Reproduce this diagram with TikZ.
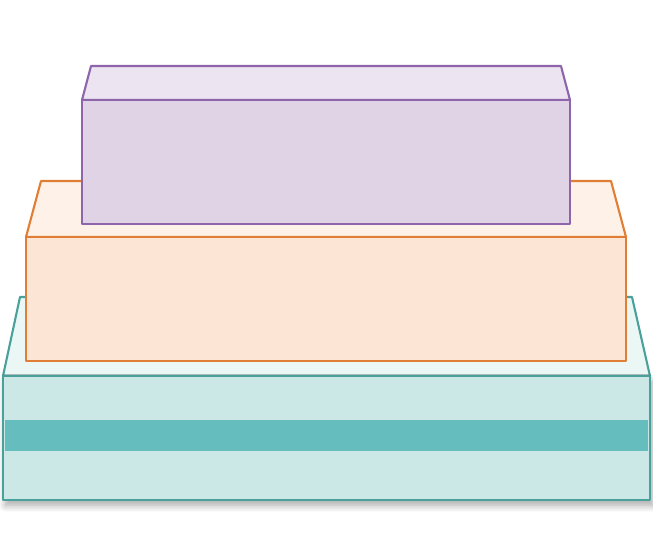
\documentclass[tikz,border=0pt]{standalone}
\usetikzlibrary{shadows.blur}
\definecolor{tealline}{HTML}{4AA19C}\definecolor{tealfront}{HTML}{CCE8E6}\definecolor{tealtop}{HTML}{EBF7F5}\definecolor{tealband}{HTML}{66BDBD}
\definecolor{orangeline}{HTML}{E07E35}\definecolor{orangefront}{HTML}{FDE5D5}\definecolor{orangetop}{HTML}{FEF1E8}
\definecolor{purpleline}{HTML}{8E64AA}\definecolor{purplefront}{HTML}{E0D3E5}\definecolor{purpletop}{HTML}{ECE4F1}
\begin{document}
\begin{tikzpicture}[x=0.02cm,y=-0.02cm,line join=round,face/.style={line width=1.2pt}]
\useasboundingbox (0,0) rectangle (653,556);
% base layer
\draw[face, draw=tealline, fill=tealtop] (3,376) -- (20,297) -- (632,297) -- (650,376) -- cycle;
\draw[face, draw=tealline, fill=tealfront, blur shadow={shadow xshift=1.5pt, shadow yshift=-3pt, shadow blur radius=4pt, shadow blur steps=10, shadow opacity=35}] (3,376) rectangle (650,500);
\fill[tealband] (5,420) rectangle (648,451);
% middle layer
\draw[face, draw=orangeline, fill=orangetop] (26,237) -- (41,181) -- (611,181) -- (626,237) -- cycle;
\draw[face, draw=orangeline, fill=orangefront] (26,237) rectangle (626,361);
% top layer
\draw[face, draw=purpleline, fill=purpletop] (82,100) -- (91,66) -- (561,66) -- (570,100) -- cycle;
\draw[face, draw=purpleline, fill=purplefront] (82,100) rectangle (570,224);
\end{tikzpicture}
\end{document}
